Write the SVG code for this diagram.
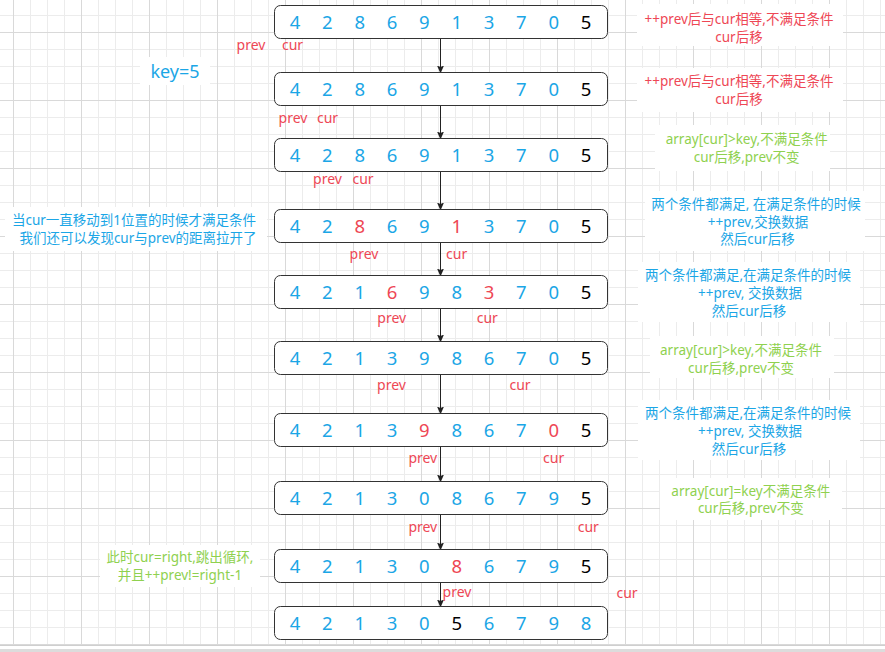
<svg xmlns="http://www.w3.org/2000/svg" width="885" height="652" viewBox="0 0 885 652">
<defs>
<pattern id="minor" width="17" height="17" patternUnits="userSpaceOnUse" x="13" y="15"><path d="M0.5 0V17M0 0.5H17" stroke="#ececec" stroke-width="1" fill="none"/></pattern>
<pattern id="major" width="68" height="68" patternUnits="userSpaceOnUse" x="13" y="32"><path d="M0.5 0V68M0 0.5H68" stroke="#d9d9d9" stroke-width="1" fill="none"/></pattern>
<marker id="ah" viewBox="0 0 8 8" refX="7" refY="4" markerWidth="8" markerHeight="8" markerUnits="userSpaceOnUse" orient="auto"><path d="M0 0.5L8 4L0 7.5L1.5 4Z" fill="#222"/></marker>
<style>
.box{fill:#fff;stroke:#333;stroke-width:1}
.d{font-family:"Noto Sans","Noto Sans CJK SC",sans-serif;font-size:18.5px;text-anchor:middle;fill:#1ba6e6}
.r{fill:#ee4755}
.k{fill:#000}
.lb{font-family:"Noto Sans","Noto Sans CJK SC",sans-serif;font-size:14px;text-anchor:middle;fill:#ee4755}
.t{font-family:"Noto Sans","Noto Sans CJK SC",sans-serif;font-size:13.5px;text-anchor:middle}
.red{fill:#ee4755}
.grn{fill:#8fd14f}
.blu{fill:#1ba6e6}
.bg{fill:#fff}
.c{stroke:#222;stroke-width:1;fill:none;marker-end:url(#ah)}
</style>
</defs>
<rect width="885" height="652" fill="#fff"/>
<rect width="885" height="645" fill="url(#minor)"/>
<rect width="885" height="645" fill="url(#major)"/>
<line x1="0" y1="645.5" x2="885" y2="645.5" stroke="#cfcfcf"/>
<rect x="0" y="649" width="885" height="3" fill="#dcdcdc"/>

<g id="connectors">
<path class="c" d="M440.5 38.5V72.5"/>
<path class="c" d="M440.5 105.5V138.5"/>
<path class="c" d="M440.5 171.5V209.5"/>
<path class="c" d="M440.5 242.5V275.5"/>
<path class="c" d="M440.5 308.5V341.5"/>
<path class="c" d="M440.5 374.5V413.5"/>
<path class="c" d="M440.5 446.5V481.5"/>
<path class="c" d="M440.5 514.5V549.5"/>
<path class="c" d="M440.5 582.5V606.5"/>
</g>

<g id="row1">
<rect class="box" x="274.5" y="5.5" width="333" height="33" rx="6"/>
<text class="d" y="29"><tspan x="295">4</tspan><tspan x="327.3">2</tspan><tspan x="359.7">8</tspan><tspan x="392">6</tspan><tspan x="424.3">9</tspan><tspan x="456.7">1</tspan><tspan x="489">3</tspan><tspan x="521.3">7</tspan><tspan x="553.7">0</tspan><tspan x="586" class="k">5</tspan></text>
</g>
<g id="row2">
<rect class="box" x="274.5" y="72.5" width="333" height="33" rx="6"/>
<text class="d" y="96"><tspan x="295">4</tspan><tspan x="327.3">2</tspan><tspan x="359.7">8</tspan><tspan x="392">6</tspan><tspan x="424.3">9</tspan><tspan x="456.7">1</tspan><tspan x="489">3</tspan><tspan x="521.3">7</tspan><tspan x="553.7">0</tspan><tspan x="586" class="k">5</tspan></text>
</g>
<g id="row3">
<rect class="box" x="274.5" y="138.5" width="333" height="33" rx="6"/>
<text class="d" y="162"><tspan x="295">4</tspan><tspan x="327.3">2</tspan><tspan x="359.7">8</tspan><tspan x="392">6</tspan><tspan x="424.3">9</tspan><tspan x="456.7">1</tspan><tspan x="489">3</tspan><tspan x="521.3">7</tspan><tspan x="553.7">0</tspan><tspan x="586" class="k">5</tspan></text>
</g>
<g id="row4">
<rect class="box" x="274.5" y="209.5" width="333" height="33" rx="6"/>
<text class="d" y="233"><tspan x="295">4</tspan><tspan x="327.3">2</tspan><tspan x="359.7" class="r">8</tspan><tspan x="392">6</tspan><tspan x="424.3">9</tspan><tspan x="456.7" class="r">1</tspan><tspan x="489">3</tspan><tspan x="521.3">7</tspan><tspan x="553.7">0</tspan><tspan x="586" class="k">5</tspan></text>
</g>
<g id="row5">
<rect class="box" x="274.5" y="275.5" width="333" height="33" rx="6"/>
<text class="d" y="299"><tspan x="295">4</tspan><tspan x="327.3">2</tspan><tspan x="359.7">1</tspan><tspan x="392" class="r">6</tspan><tspan x="424.3">9</tspan><tspan x="456.7">8</tspan><tspan x="489" class="r">3</tspan><tspan x="521.3">7</tspan><tspan x="553.7">0</tspan><tspan x="586" class="k">5</tspan></text>
</g>
<g id="row6">
<rect class="box" x="274.5" y="341.5" width="333" height="33" rx="6"/>
<text class="d" y="365"><tspan x="295">4</tspan><tspan x="327.3">2</tspan><tspan x="359.7">1</tspan><tspan x="392">3</tspan><tspan x="424.3">9</tspan><tspan x="456.7">8</tspan><tspan x="489">6</tspan><tspan x="521.3">7</tspan><tspan x="553.7">0</tspan><tspan x="586" class="k">5</tspan></text>
</g>
<g id="row7">
<rect class="box" x="274.5" y="413.5" width="333" height="33" rx="6"/>
<text class="d" y="437"><tspan x="295">4</tspan><tspan x="327.3">2</tspan><tspan x="359.7">1</tspan><tspan x="392">3</tspan><tspan x="424.3" class="r">9</tspan><tspan x="456.7">8</tspan><tspan x="489">6</tspan><tspan x="521.3">7</tspan><tspan x="553.7" class="r">0</tspan><tspan x="586" class="k">5</tspan></text>
</g>
<g id="row8">
<rect class="box" x="274.5" y="481.5" width="333" height="33" rx="6"/>
<text class="d" y="505"><tspan x="295">4</tspan><tspan x="327.3">2</tspan><tspan x="359.7">1</tspan><tspan x="392">3</tspan><tspan x="424.3">0</tspan><tspan x="456.7">8</tspan><tspan x="489">6</tspan><tspan x="521.3">7</tspan><tspan x="553.7">9</tspan><tspan x="586" class="k">5</tspan></text>
</g>
<g id="row9">
<rect class="box" x="274.5" y="549.5" width="333" height="33" rx="6"/>
<text class="d" y="573"><tspan x="295">4</tspan><tspan x="327.3">2</tspan><tspan x="359.7">1</tspan><tspan x="392">3</tspan><tspan x="424.3">0</tspan><tspan x="456.7" class="r">8</tspan><tspan x="489">6</tspan><tspan x="521.3">7</tspan><tspan x="553.7">9</tspan><tspan x="586" class="k">5</tspan></text>
</g>
<g id="row10">
<rect class="box" x="274.5" y="606.5" width="333" height="33" rx="6"/>
<text class="d" y="630"><tspan x="295">4</tspan><tspan x="327.3">2</tspan><tspan x="359.7">1</tspan><tspan x="392">3</tspan><tspan x="424.3">0</tspan><tspan x="456.7" class="k">5</tspan><tspan x="489">6</tspan><tspan x="521.3">7</tspan><tspan x="553.7">9</tspan><tspan x="586">8</tspan></text>
</g>

<g id="pointers">
<text class="lb" x="251" y="50">prev</text><text class="lb" x="292.5" y="50">cur</text>
<text class="lb" x="293" y="123">prev</text><text class="lb" x="327.5" y="123">cur</text>
<text class="lb" x="327.5" y="184">prev</text><text class="lb" x="363" y="184">cur</text>
<text class="lb" x="364" y="259">prev</text><text class="lb" x="456.7" y="259">cur</text>
<text class="lb" x="391.7" y="323">prev</text><text class="lb" x="487.3" y="323">cur</text>
<text class="lb" x="391.5" y="390">prev</text><text class="lb" x="520" y="390">cur</text>
<text class="lb" x="422.8" y="463">prev</text><text class="lb" x="553.7" y="463">cur</text>
<text class="lb" x="422.8" y="531.5">prev</text><text class="lb" x="588.3" y="531.5">cur</text>
<text class="lb" x="457" y="596.5">prev</text><text class="lb" x="627" y="598">cur</text>
</g>

<g id="key">
<rect class="bg" x="140" y="57" width="70" height="28"/>
<text x="175" y="78" font-family="Noto Sans, sans-serif" font-size="18" text-anchor="middle" class="blu">key=5</text>
</g>

<g id="note1">
<rect class="bg" x="637" y="4" width="206" height="42"/>
<text class="t red"><tspan x="739" y="24">++prev后与cur相等,不满足条件</tspan><tspan x="739" y="42">cur后移</tspan></text>
</g>
<g id="note2">
<rect class="bg" x="637" y="68" width="206" height="44"/>
<text class="t red"><tspan x="739" y="86">++prev后与cur相等,不满足条件</tspan><tspan x="739" y="104">cur后移</tspan></text>
</g>
<g id="note3">
<rect class="bg" x="655" y="125" width="175" height="46"/>
<text class="t grn"><tspan x="746.7" y="144">array[cur]&gt;key,不满足条件</tspan><tspan x="746.7" y="162">cur后移,prev不变</tspan></text>
</g>
<g id="note4">
<rect class="bg" x="645" y="191" width="220" height="60"/>
<text class="t blu"><tspan x="756" y="209">两个条件都满足, 在满足条件的时候</tspan><tspan x="758" y="226.5">++prev,交换数据</tspan><tspan x="757.5" y="243.5">然后cur后移</tspan></text>
</g>
<g id="note5">
<rect class="bg" x="638" y="262" width="222" height="60"/>
<text class="t blu"><tspan x="748" y="280">两个条件都满足,在满足条件的时候</tspan><tspan x="750" y="298">++prev, 交换数据</tspan><tspan x="749" y="316">然后cur后移</tspan></text>
</g>
<g id="note6">
<rect class="bg" x="650" y="336" width="184" height="42"/>
<text class="t grn"><tspan x="741" y="355">array[cur]&gt;key,不满足条件</tspan><tspan x="741" y="373">cur后移,prev不变</tspan></text>
</g>
<g id="note7">
<rect class="bg" x="638" y="400" width="222" height="60"/>
<text class="t blu"><tspan x="748" y="418">两个条件都满足,在满足条件的时候</tspan><tspan x="750" y="436">++prev, 交换数据</tspan><tspan x="749" y="454">然后cur后移</tspan></text>
</g>
<g id="note8">
<rect class="bg" x="660" y="478" width="182" height="42"/>
<text class="t grn"><tspan x="750.8" y="496">array[cur]=key不满足条件</tspan><tspan x="750.8" y="513">cur后移,prev不变</tspan></text>
</g>
<g id="note-left">
<rect class="bg" x="5" y="207" width="262" height="44"/>
<text class="t blu"><tspan x="134" y="225">当cur一直移动到1位置的时候才满足条件</tspan><tspan x="138" y="243">我们还可以发现cur与prev的距离拉开了</tspan></text>
</g>
<g id="note-bottom">
<rect class="bg" x="100" y="545" width="160" height="42"/>
<text class="t grn"><tspan x="180" y="562">此时cur=right,跳出循环,</tspan><tspan x="180" y="580">并且++prev!=right-1</tspan></text>
</g>
</svg>
